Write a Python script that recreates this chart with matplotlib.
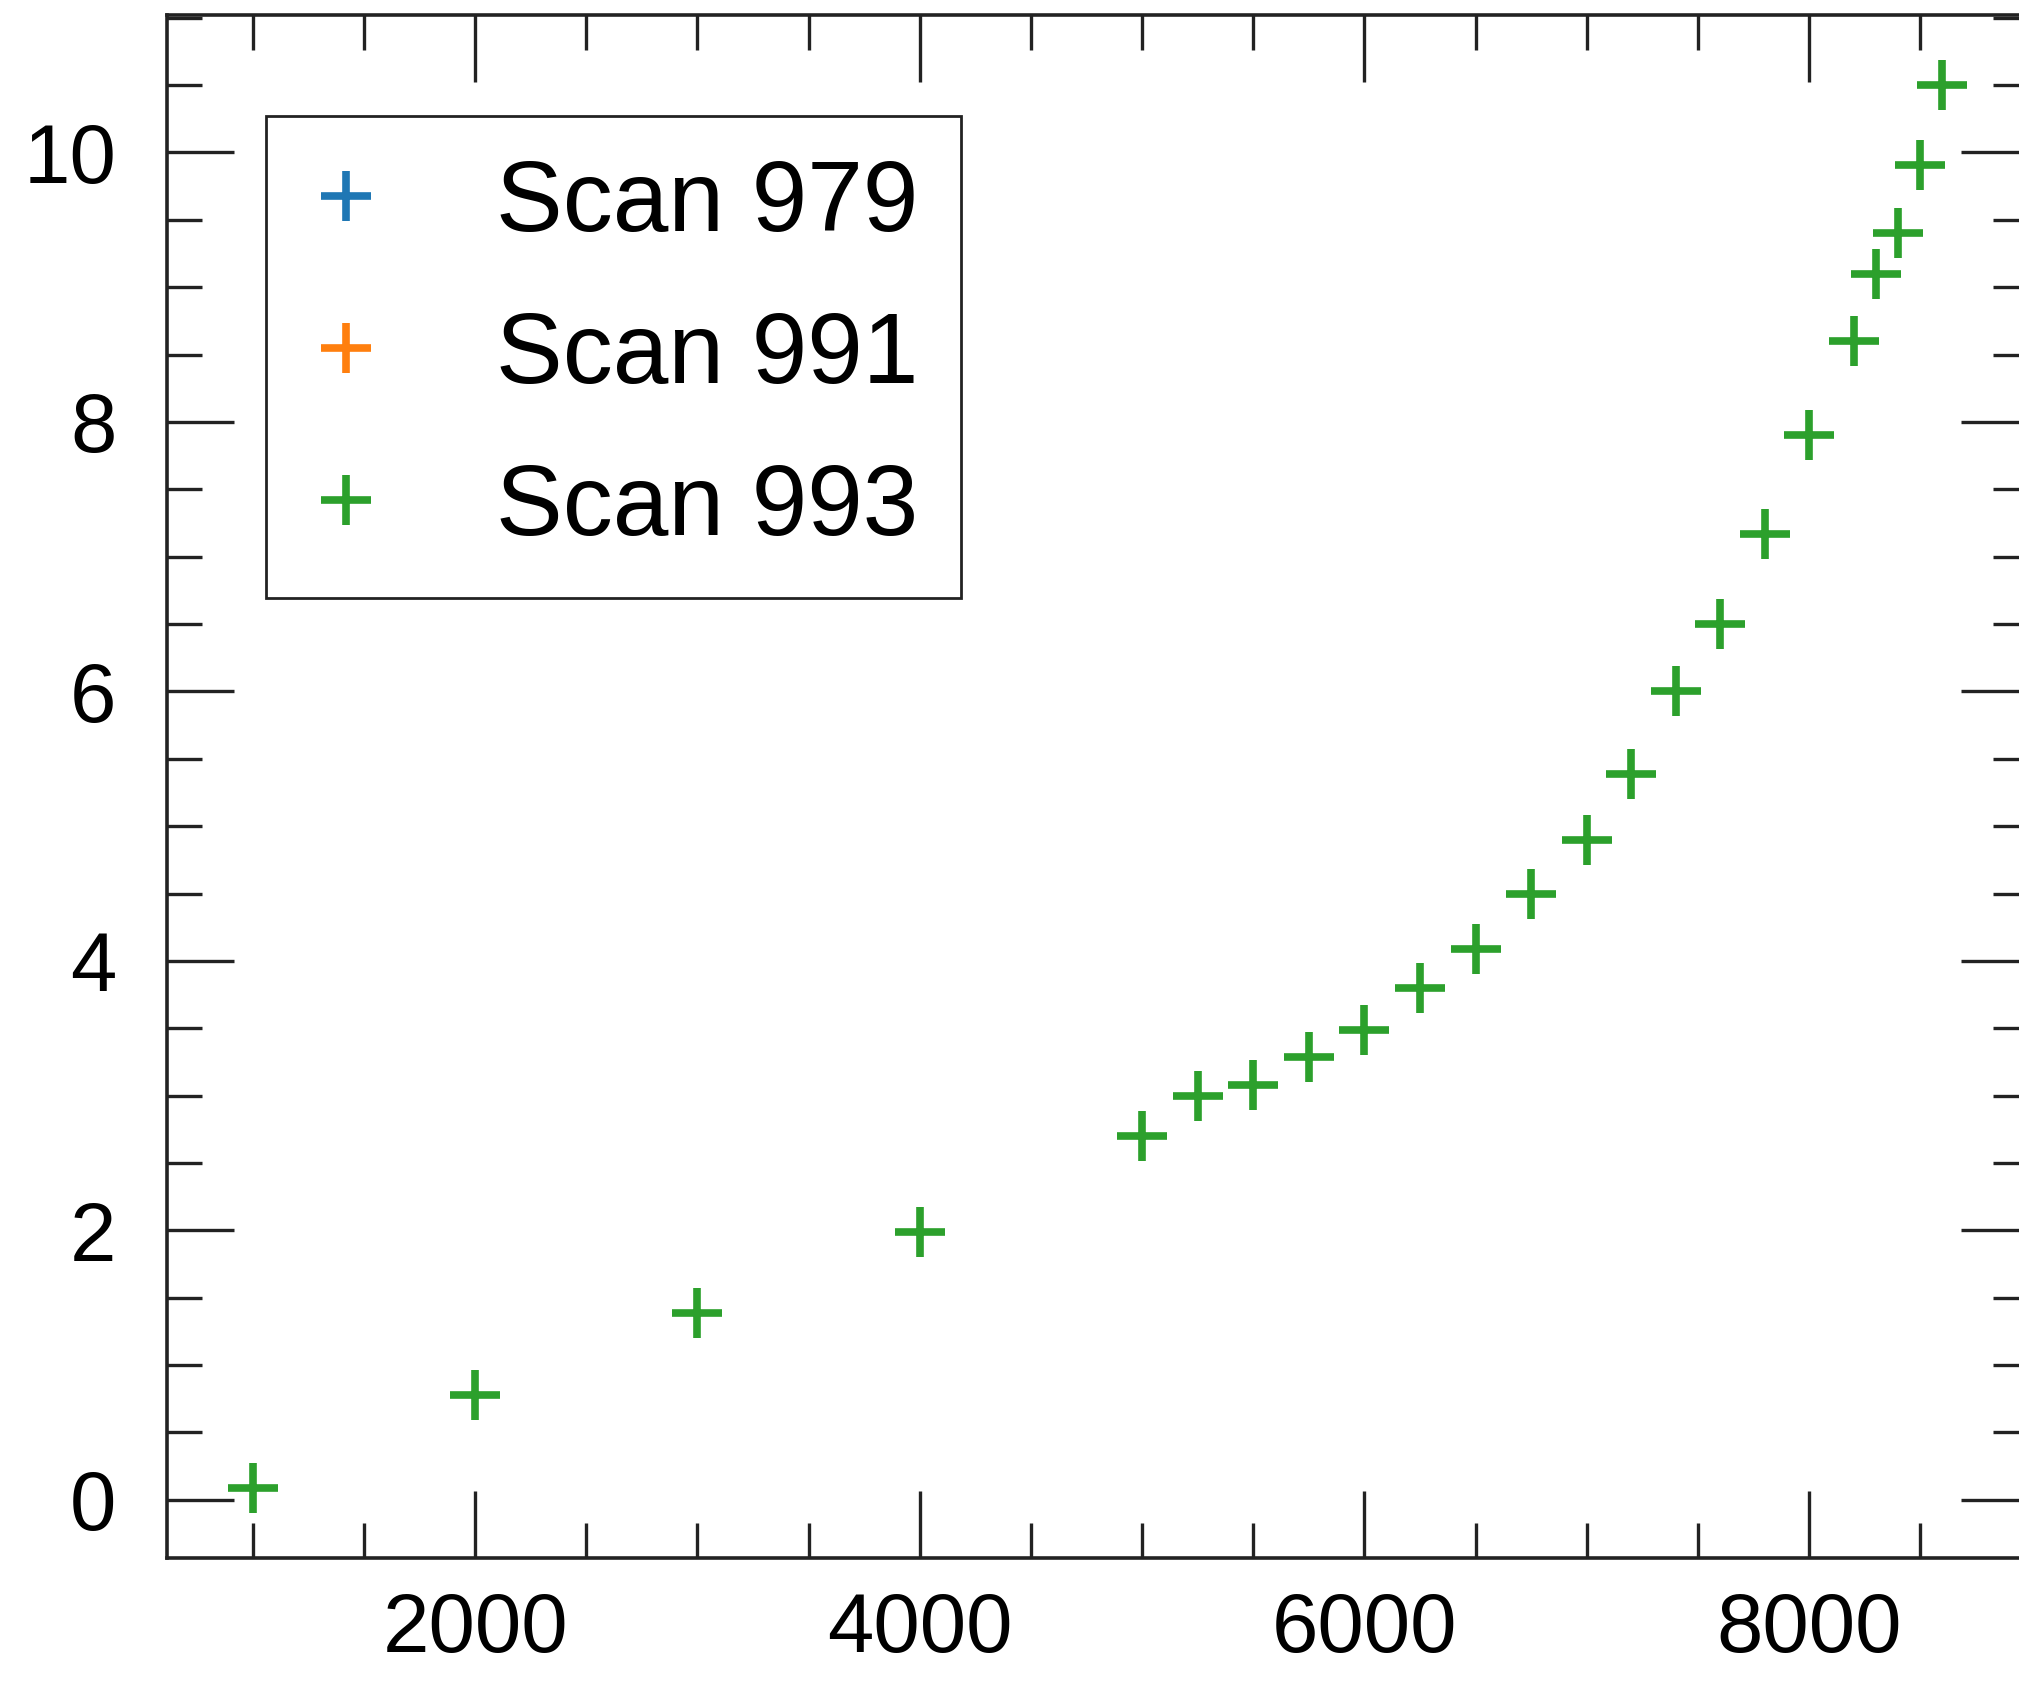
import matplotlib
matplotlib.use("Agg")
import matplotlib.pyplot as plt
from matplotlib.ticker import MultipleLocator

plt.rcParams['font.family'] = ['Liberation Sans', 'DejaVu Sans']

# Data (Scan 993 visible; Scan 979 and 991 have no visible points)
scan979_x = []
scan979_y = []
scan991_x = []
scan991_y = []
scan993_x = [1000, 2000, 3000, 4000, 5000, 5250, 5500, 5750, 6000, 6250, 6500,
             6750, 7000, 7200, 7400, 7600, 7800, 8000, 8200, 8300, 8400, 8500, 8600]
scan993_y = [0.09, 0.78, 1.39, 1.99, 2.70, 3.00, 3.08, 3.29, 3.49, 3.80, 4.09,
             4.50, 4.90, 5.39, 6.00, 6.50, 7.17, 7.90, 8.60, 9.10, 9.40, 9.91, 10.50]
labels = ["Scan 979", "Scan 991", "Scan 993"]
colors = ["#1f77b4", "#ff7f0e", "#2ca02c"]

fig = plt.figure(figsize=(20.19, 16.85), dpi=100)
ax = fig.add_axes([0.0825, 0.0755, 0.922, 0.9156])

series = [(scan979_x, scan979_y), (scan991_x, scan991_y), (scan993_x, scan993_y)]
for (xs, ys), lab, c in zip(series, labels, colors):
    ax.plot(xs, ys, linestyle='none', marker='+', markersize=36,
            markeredgewidth=5.5, color=c, label=lab)

ax.set_xlim(612, 8985)
ax.set_ylim(-0.43, 11.02)
ax.xaxis.set_major_locator(MultipleLocator(2000))
ax.xaxis.set_minor_locator(MultipleLocator(500))
ax.yaxis.set_major_locator(MultipleLocator(2))
ax.yaxis.set_minor_locator(MultipleLocator(0.5))

ax.tick_params(which='both', direction='in', top=True, right=True, width=2.4,
               color='#222222')
ax.tick_params(which='major', length=48)
ax.tick_params(which='minor', length=25)
ax.tick_params(axis='x', which='major', labelsize=60, pad=24)
ax.tick_params(axis='y', which='major', labelsize=60, pad=36)
for s in ax.spines.values():
    s.set_linewidth(2.6)
    s.set_color('#222222')

leg = ax.legend(loc='upper left', bbox_to_anchor=(0.0535, 0.9345),
                borderaxespad=0, fontsize=72, frameon=True, fancybox=False,
                edgecolor='#222222', framealpha=1, borderpad=0.42,
                handlelength=0.75, handletextpad=1.13, labelspacing=0.58)
leg.get_frame().set_linewidth(2.0)

fig.savefig("out.png", dpi=100)
